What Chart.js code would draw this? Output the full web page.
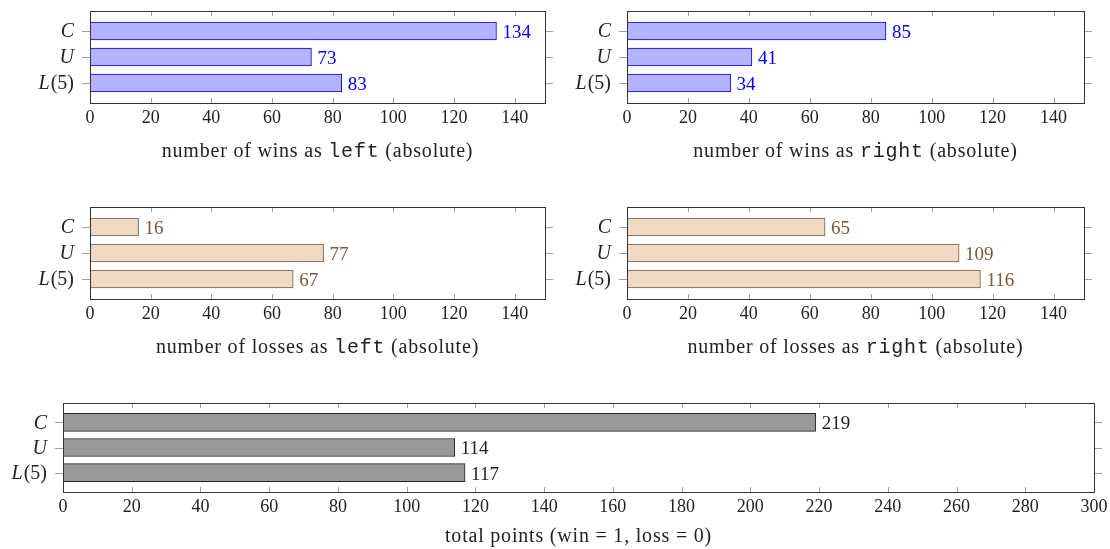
<!DOCTYPE html>
<html>
<head>
<meta charset="utf-8">
<script src="https://cdn.jsdelivr.net/npm/chart.js@4.4.1/dist/chart.umd.min.js"></script>
<style>
  html, body { margin: 0; padding: 0; background: #fff; }
  #page { position: relative; width: 1110px; height: 549px; overflow: hidden; }
  .box { position: absolute; }
</style>
</head>
<body>
<div id="page">
  <div class="box" style="left:0;top:0;width:560px;height:170px"><canvas id="winsLeft"></canvas></div>
  <div class="box" style="left:555px;top:0;width:555px;height:170px"><canvas id="winsRight"></canvas></div>
  <div class="box" style="left:0;top:196px;width:560px;height:170px"><canvas id="lossesLeft"></canvas></div>
  <div class="box" style="left:555px;top:196px;width:555px;height:170px"><canvas id="lossesRight"></canvas></div>
  <div class="box" style="left:0;top:391px;width:1110px;height:158px"><canvas id="total"></canvas></div>
</div>
<script>
const categories  = ['C', 'U', 'L(5)'];
const winsLeft    = [134, 73, 83];
const winsRight   = [85, 41, 34];
const lossesLeft  = [16, 77, 67];
const lossesRight = [65, 109, 116];
const totalPoints = [219, 114, 117];
const ticksSmall  = [0, 20, 40, 60, 80, 100, 120, 140];
const ticksTotal  = [0, 20, 40, 60, 80, 100, 120, 140, 160, 180, 200, 220, 240, 260, 280, 300];

const SERIF = '"Liberation Serif", "DejaVu Serif", serif';
const MONO  = '"Liberation Mono", "DejaVu Sans Mono", monospace';

// draws frame, tick marks, tick labels, value labels and axis title
const texPlot = {
  id: 'texPlot',
  afterDatasetsDraw(chart, args, opts) {
    const { ctx, chartArea: a } = chart;
    const xs = chart.scales.x, ys = chart.scales.y;
    ctx.save();

    // tick marks
    ctx.strokeStyle = '#a0a0a0';
    ctx.lineWidth = 1;
    ctx.beginPath();
    xs.ticks.forEach(t => {
      const px = Math.round(xs.getPixelForValue(t.value)) + 0.5;
      ctx.moveTo(px, a.top); ctx.lineTo(px, a.top + 5);
      ctx.moveTo(px, a.bottom); ctx.lineTo(px, a.bottom - 5);
    });
    categories.forEach((c, i) => {
      const py = Math.round(ys.getPixelForValue(i)) + 0.5;
      ctx.moveTo(a.left - 8, py); ctx.lineTo(a.left, py);
      ctx.moveTo(a.right, py); ctx.lineTo(a.right + 8, py);
    });
    ctx.stroke();

    // frame
    ctx.strokeStyle = '#333';
    ctx.strokeRect(Math.round(a.left) + 0.5, Math.round(a.top) + 0.5,
                   Math.round(a.right - a.left), Math.round(a.bottom - a.top));

    // x tick labels
    ctx.fillStyle = '#222';
    ctx.font = '18px ' + SERIF;
    ctx.textAlign = 'center';
    ctx.textBaseline = 'middle';
    xs.ticks.forEach(t => {
      ctx.fillText(String(t.value), xs.getPixelForValue(t.value), a.bottom + 15);
    });

    // y category labels (first letter italic)
    ctx.textAlign = 'left';
    categories.forEach((c, i) => {
      const py = ys.getPixelForValue(i) + 1;
      const head = c[0], rest = c.slice(1);
      ctx.font = 'italic 20px ' + SERIF;
      const wh = ctx.measureText(head).width;
      ctx.font = '20px ' + SERIF;
      const wr = ctx.measureText(rest).width;
      const x = a.left - 16 - wh - wr - (rest ? 1 : 0);
      ctx.font = 'italic 20px ' + SERIF;
      ctx.fillText(head, x, py);
      ctx.font = '20px ' + SERIF;
      ctx.fillText(rest, x + wh + 1, py);
    });

    // value labels
    ctx.fillStyle = opts.labelColor;
    ctx.font = '19px ' + SERIF;
    chart.getDatasetMeta(0).data.forEach((bar, i) => {
      ctx.fillText(String(chart.data.datasets[0].data[i].x), bar.x + 6, bar.y + 2);
    });

    // axis title
    ctx.fillStyle = '#222';
    ctx.letterSpacing = '0.8px';
    const parts = opts.title.map(p => {
      ctx.font = '20px ' + (p[1] ? MONO : SERIF);
      return { text: p[0], mono: p[1], w: ctx.measureText(p[0]).width };
    });
    const total = parts.reduce((s, p) => s + p.w, 0);
    let tx = (a.left + a.right) / 2 - total / 2;
    parts.forEach(p => {
      ctx.font = '20px ' + (p.mono ? MONO : SERIF);
      ctx.fillText(p.text, tx, a.bottom + opts.titleGap);
      tx += p.w;
    });
    ctx.restore();
  }
};

function makeChart(id, values, tickValues, xMax, style) {
  new Chart(document.getElementById(id), {
    type: 'bar',
    data: {
      labels: categories,
      datasets: [{
        data: values.map((v, i) => ({ x: v, y: i })),
        backgroundColor: style.fill,
        borderColor: style.border,
        borderWidth: 1,
        borderSkipped: false,
        barThickness: 18
      }]
    },
    options: {
      indexAxis: 'y',
      responsive: true,
      maintainAspectRatio: false,
      animation: false,
      layout: { padding: style.padding },
      plugins: {
        legend: { display: false },
        tooltip: { enabled: false },
        texPlot: { labelColor: style.label, title: style.title, titleGap: style.titleGap }
      },
      scales: {
        x: {
          type: 'linear', min: 0, max: xMax, display: false,
          afterBuildTicks: s => { s.ticks = tickValues.map(v => ({ value: v })); }
        },
        y: {
          type: 'linear', min: -0.77, max: 2.77, reverse: true,
          offset: false, display: false
        }
      }
    },
    plugins: [texPlot]
  });
}

const blue  = { fill: '#b3b3ff', border: '#0000ff', label: '#0000ff' };
const brown = { fill: '#edd9c4', border: '#80593a', label: '#7d5636' };
const gray  = { fill: '#999999', border: '#222222', label: '#222222' };

const padL = { left: 90, top: 11, right: 15, bottom: 67 };
const padR = { left: 72, top: 11, right: 26, bottom: 67 };

makeChart('winsLeft', winsLeft, ticksSmall, 150, { ...blue, padding: padL, titleGap: 49,
  title: [['number of wins as ', false], ['left', true], [' (absolute)', false]] });
makeChart('winsRight', winsRight, ticksSmall, 150, { ...blue, padding: padR, titleGap: 49,
  title: [['number of wins as ', false], ['right', true], [' (absolute)', false]] });
makeChart('lossesLeft', lossesLeft, ticksSmall, 150, { ...brown, padding: padL, titleGap: 49,
  title: [['number of losses as ', false], ['left', true], [' (absolute)', false]] });
makeChart('lossesRight', lossesRight, ticksSmall, 150, { ...brown, padding: padR, titleGap: 49,
  title: [['number of losses as ', false], ['right', true], [' (absolute)', false]] });
makeChart('total', totalPoints, ticksTotal, 300, { ...gray,
  padding: { left: 63, top: 12, right: 16, bottom: 57 }, titleGap: 45,
  title: [['total points (win = 1, loss = 0)', false]] });
</script>
</body>
</html>
